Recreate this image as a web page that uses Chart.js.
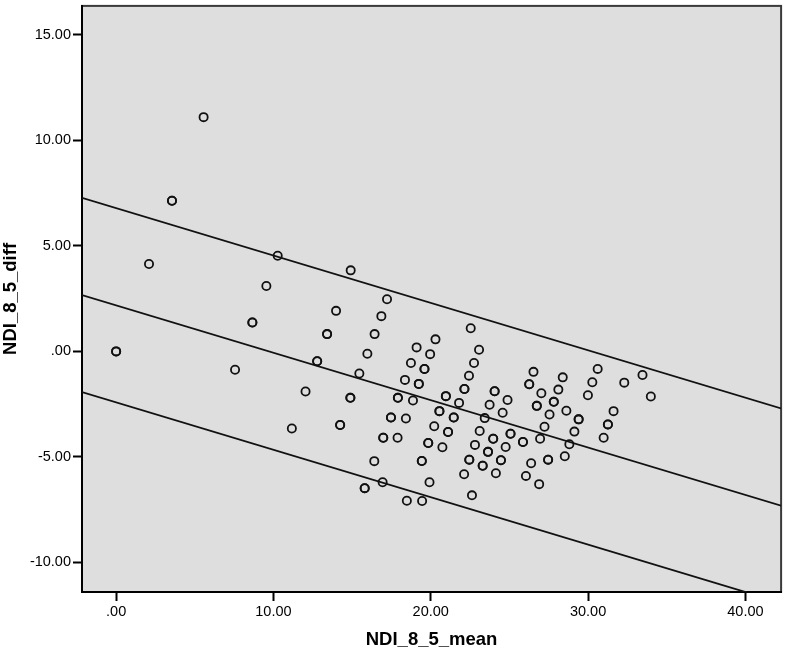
<!DOCTYPE html>
<html>
<head>
<meta charset="utf-8">
<script src="https://cdn.jsdelivr.net/npm/chart.js@4"></script>
<style>
    body { margin: 0; background: #fff; }
    #wrap { width: 787px; height: 655px; }
</style>
</head>
<body>
<div id="wrap"><canvas id="blandAltman"></canvas></div>
<script>
// NDI_8_5_mean (x) and NDI_8_5_diff (y); repeated pairs are overlapping cases
const meanValues = [
    0.00, 0.00, 2.09, 3.55, 3.55, 5.56, 7.56, 8.66, 8.66, 9.55,
    10.27, 11.17, 12.04, 12.78, 12.78, 13.41, 13.41, 13.98, 14.24, 14.24,
    14.89, 14.89, 14.91, 15.46, 15.80, 15.80, 15.97, 16.41, 16.43, 16.86,
    16.94, 16.98, 16.98, 17.22, 17.47, 17.47, 17.89, 17.91, 17.91, 18.36,
    18.42, 18.48, 18.74, 18.87, 19.10, 19.24, 19.24, 19.43, 19.43, 19.45,
    19.60, 19.60, 19.84, 19.84, 19.92, 19.96, 20.22, 20.30, 20.55, 20.55,
    20.74, 20.96, 20.96, 21.10, 21.10, 21.46, 21.46, 21.80, 22.12, 22.14,
    22.14, 22.43, 22.45, 22.45, 22.54, 22.62, 22.75, 22.81, 23.07, 23.11,
    23.30, 23.30, 23.43, 23.64, 23.64, 23.74, 23.97, 23.97, 24.06, 24.06,
    24.14, 24.46, 24.46, 24.57, 24.76, 24.88, 25.07, 25.07, 25.86, 25.86,
    26.05, 26.26, 26.26, 26.38, 26.53, 26.74, 26.74, 26.89, 26.95, 27.03,
    27.23, 27.46, 27.46, 27.55, 27.82, 27.82, 28.11, 28.39, 28.52, 28.62,
    28.81, 29.13, 29.40, 29.40, 29.99, 30.27, 30.61, 30.99, 31.26, 31.26,
    31.62, 32.30, 33.46, 33.99
];
const diffValues = [
    0.00, 0.00, 4.14, 7.14, 7.14, 11.10, -0.87, 1.37, 1.37, 3.10,
    4.53, -3.65, -1.90, -0.47, -0.47, 0.82, 0.82, 1.92, -3.49, -3.49,
    -2.20, -2.20, 3.84, -1.05, -6.48, -6.48, -0.11, -5.20, 0.82, 1.67,
    -6.20, -4.09, -4.09, 2.47, -3.13, -3.13, -4.09, -2.20, -2.20, -1.35,
    -3.18, -7.08, -0.55, -2.33, 0.19, -1.54, -1.54, -5.19, -5.19, -7.09,
    -0.83, -0.83, -4.34, -4.34, -6.20, -0.13, -3.55, 0.57, -2.83, -2.83,
    -4.54, -2.12, -2.12, -3.82, -3.82, -3.13, -3.13, -2.44, -5.82, -1.78,
    -1.78, -1.15, -5.13, -5.13, 1.10, -6.82, -0.55, -4.43, 0.08, -3.77,
    -5.42, -5.42, -3.16, -4.76, -4.76, -2.53, -4.14, -4.14, -1.89, -1.89,
    -5.77, -5.16, -5.16, -2.91, -4.53, -2.30, -3.90, -3.90, -4.29, -4.29,
    -5.90, -1.56, -1.56, -5.30, -0.97, -2.58, -2.58, -6.29, -4.14, -1.98,
    -3.57, -5.13, -5.13, -2.99, -2.39, -2.39, -1.81, -1.23, -4.97, -2.81,
    -4.40, -3.80, -3.22, -3.22, -2.08, -1.46, -0.83, -4.09, -3.46, -3.46,
    -2.83, -1.48, -1.12, -2.14
];

// reference lines (upper limit, mean, lower limit), end points at the plot edges
const lineX = [-2.17, 42.27];
const upperLine = [7.28, -2.70];
const meanLine = [2.67, -7.31];
const lowerLine = [-1.93, -11.91];

const xTicks = [0, 10, 20, 30, 40];
const yTicks = [-10, -5, 0, 5, 10, 15];

function spssLabel(v) {
    // SPSS writes 0.00 as .00
    let s = Number(v).toFixed(2);
    if (s.startsWith('0.')) s = s.slice(1);
    if (s.startsWith('-0.')) s = '-' + s.slice(2);
    return s;
}

function toPoints(xs, ys) {
    return xs.map((x, i) => ({ x: x, y: ys[i] }));
}

function refLine(values) {
    return {
        type: 'line',
        data: toPoints(lineX, values),
        borderColor: '#111',
        borderWidth: 1.8,
        pointRadius: 0,
        fill: false
    };
}

const plotBackground = {
    id: 'plotBackground',
    beforeDraw(chart) {
        const { ctx, chartArea: a } = chart;
        ctx.save();
        ctx.fillStyle = '#dedede';
        ctx.fillRect(a.left, a.top, a.right - a.left, a.bottom - a.top);
        ctx.strokeStyle = '#3a3a3a';
        ctx.lineWidth = 2;
        ctx.strokeRect(a.left, a.top, a.right - a.left, a.bottom - a.top);
        ctx.restore();
    }
};

const tickFont = { family: '"Liberation Sans", Arial, sans-serif', size: 14.5 };
const titleFont = { family: '"Liberation Sans", Arial, sans-serif', size: 18.5, weight: 'bold' };

const config = {
    type: 'scatter',
    data: {
        datasets: [
            {
                label: 'NDI_8_5_diff',
                data: toPoints(meanValues, diffValues),
                pointStyle: 'circle',
                pointRadius: 4.1,
                backgroundColor: 'rgba(0,0,0,0)',
                borderColor: '#111',
                borderWidth: 1.8
            },
            refLine(upperLine),
            refLine(meanLine),
            refLine(lowerLine)
        ]
    },
    options: {
        responsive: true,
        maintainAspectRatio: false,
        animation: false,
        layout: { padding: { top: 3, right: 4, left: 0, bottom: 0 } },
        plugins: {
            legend: { display: false },
            tooltip: { enabled: false }
        },
        scales: {
            x: {
                type: 'linear',
                min: -2.17,
                max: 42.27,
                afterBuildTicks: scale => { scale.ticks = xTicks.map(v => ({ value: v })); },
                afterFit: scale => {
                    scale.height = 63;
                    scale.paddingLeft = 0;
                    scale.paddingRight = 0;
                },
                grid: { drawOnChartArea: false, drawTicks: true, tickLength: 9, tickColor: '#000', tickWidth: 2 },
                border: { display: true, color: '#000', width: 2 },
                ticks: { color: '#000', font: tickFont, padding: 2, maxRotation: 0, callback: v => spssLabel(v) },
                title: { display: true, text: 'NDI_8_5_mean', color: '#000', font: titleFont, padding: { top: 0, bottom: 4 } }
            },
            y: {
                type: 'linear',
                min: -11.4,
                max: 16.37,
                afterBuildTicks: scale => { scale.ticks = yTicks.map(v => ({ value: v })); },
                afterFit: scale => {
                    scale.width = 82;
                    scale.paddingTop = 0;
                    scale.paddingBottom = 0;
                },
                grid: { drawOnChartArea: false, drawTicks: true, tickLength: 9, tickColor: '#000', tickWidth: 2 },
                border: { display: true, color: '#000', width: 2 },
                ticks: { color: '#000', font: tickFont, padding: 2, callback: v => spssLabel(v) },
                title: { display: true, text: 'NDI_8_5_diff', color: '#000', font: titleFont, padding: { top: 0, bottom: 0 } }
            }
        }
    },
    plugins: [plotBackground]
};

const ctx = document.getElementById('blandAltman').getContext('2d');
new Chart(ctx, config);
</script>
</body>
</html>
